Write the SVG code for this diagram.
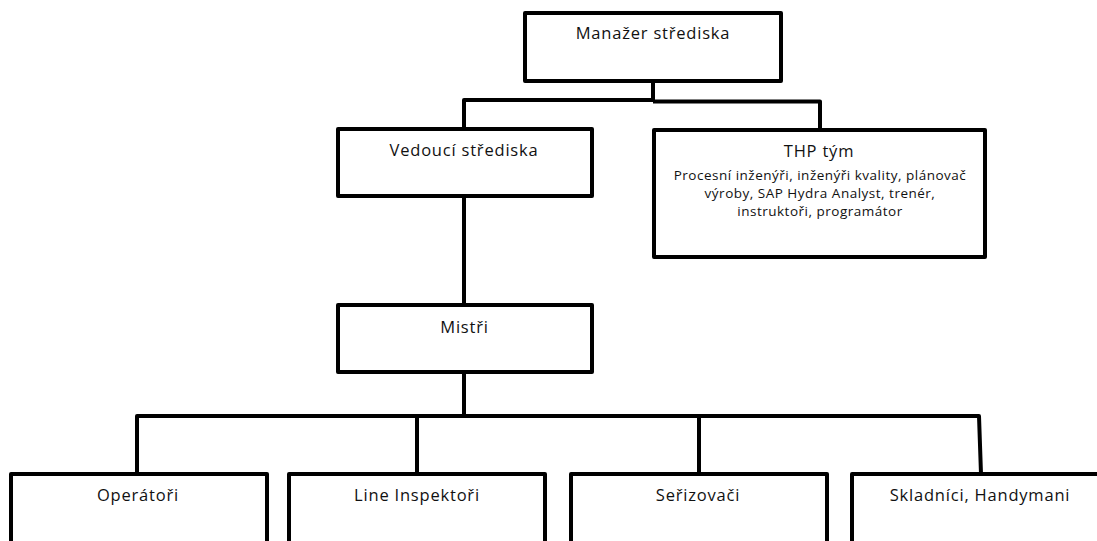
<svg xmlns="http://www.w3.org/2000/svg" width="1097" height="541" viewBox="0 0 1097 541">
<style>
.box{fill:#fff;stroke:#000;stroke-width:4;stroke-linejoin:round}
.con{fill:none;stroke:#000;stroke-width:4;stroke-linejoin:round}
.t{font-family:"Open Sans","Noto Sans","Liberation Sans",sans-serif;font-size:16.5px;letter-spacing:0.8px;fill:#111;text-anchor:middle}
.d{font-family:"Open Sans","Noto Sans","Liberation Sans",sans-serif;font-size:13.5px;letter-spacing:0.5px;fill:#111;text-anchor:middle}
</style>
<rect width="1097" height="541" fill="#fff"/>
<g id="connectors">
<path class="con" d="M653,81 V100 M464,129 V100 H653"/>
<path class="con" d="M653,101.5 H820 V130"/>
<path class="con" d="M464,196 V305"/>
<path class="con" d="M464,372 V416"/>
<path class="con" d="M137,474 V416 H979 L981,474"/>
<path class="con" d="M417,416 V474"/>
<path class="con" d="M699,416 V474"/>
</g>
<g id="manazer">
<rect class="box" x="525" y="13" width="256" height="68"/>
<text class="t" x="653" y="39">Manažer střediska</text>
</g>
<g id="vedouci">
<rect class="box" x="338" y="129" width="254" height="67"/>
<text class="t" x="464" y="156">Vedoucí střediska</text>
</g>
<g id="thp">
<rect class="box" x="654" y="130" width="331" height="127"/>
<text class="t" x="819" y="157">THP tým</text>
<text class="d" x="820" y="180">Procesní inženýři, inženýři kvality, plánovač</text>
<text class="d" x="820" y="197.5">výroby, SAP Hydra Analyst, trenér,</text>
<text class="d" x="820" y="215.5">instruktoři, programátor</text>
</g>
<g id="mistri">
<rect class="box" x="338" y="305" width="254" height="67"/>
<text class="t" x="464.5" y="333">Mistři</text>
</g>
<g id="operatori">
<rect class="box" x="11" y="474" width="256" height="100"/>
<text class="t" x="138" y="501">Operátoři</text>
</g>
<g id="inspektori">
<rect class="box" x="289" y="474" width="256" height="100"/>
<text class="t" x="417" y="501">Line Inspektoři</text>
</g>
<g id="serizovaci">
<rect class="box" x="571" y="474" width="256" height="100"/>
<text class="t" x="698" y="501">Seřizovači</text>
</g>
<g id="skladnici">
<rect class="box" x="852" y="474" width="256" height="100"/>
<text class="t" x="980" y="501">Skladníci, Handymani</text>
</g>
</svg>
